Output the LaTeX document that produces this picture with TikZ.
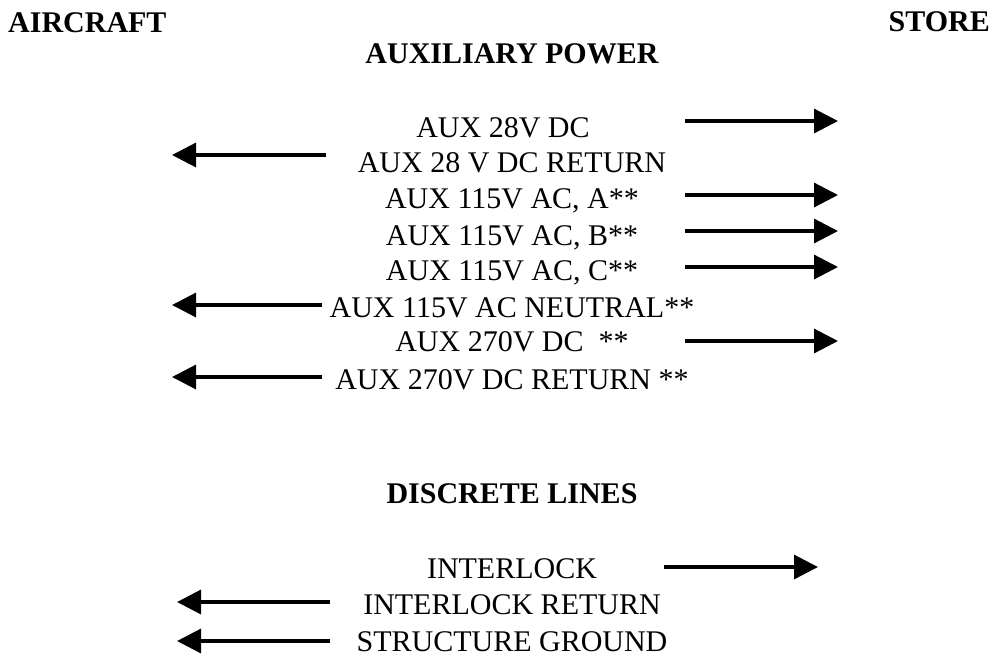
\documentclass[tikz,border=0pt]{standalone}
\usepackage{fontspec}
\setmainfont{Liberation Serif}
\usetikzlibrary{arrows.meta}
\tikzset{
  sig/.style={line width=3.2pt,-{Triangle[length=24pt,width=24pt]}},
  lbl/.style={anchor=base,inner sep=0pt,font=\fontsize{30}{36}\selectfont},
  hdr/.style={anchor=base,inner sep=0pt,font=\fontsize{30}{36}\selectfont\bfseries},
}
% #1 name, #2 y, #3 x where the wire starts, #4 x of the tip
\newcommand{\Wire}[4]{%
  \coordinate (#1-o) at (#3,#2);%
  \coordinate (#1-t) at (#4,#2);%
  \draw[sig] (#1-o) -- (#1-t);%
}

\begin{document}
\begin{tikzpicture}[x=1pt,y=-1pt]
\useasboundingbox (0,0) rectangle (998,657);
\node[hdr,anchor=base west] (aircraft) at (8,32) {AIRCRAFT};
\node[hdr,anchor=base east] (store) at (990,31) {STORE};
\node[hdr] (auxpwr) at (512,63) {AUXILIARY POWER};
\node[hdr] (discrete) at (512,503) {DISCRETE LINES};
% auxiliary power lines
\node[lbl] (dc28) at (503,137) {AUX 28V DC};
\foreach \n/\y/\t in {dc28ret/172/{AUX 28 V DC RETURN},
    aca/208/{AUX 115V AC, A**},
    acb/245/{AUX 115V AC, B**},
    acc/280/{AUX 115V AC, C**},
    acn/317/{AUX 115V AC NEUTRAL**},
    dc270/351/{AUX 270V DC\ \ **},
    dc270ret/389/{AUX 270V DC RETURN **},
    intlk/578/{INTERLOCK},
    intlkret/614/{INTERLOCK RETURN},
    gnd/651/{STRUCTURE GROUND}} {
  \node[lbl] (\n) at (512,\y) {\t};
}
\Wire{dc28}{121}{685}{838}
\Wire{dc28ret}{155}{326}{172}
\Wire{aca}{195}{685}{838}
\Wire{acb}{231}{685}{838}
\Wire{acc}{267}{685}{838}
\Wire{acn}{305}{322}{172}
\Wire{dc270}{341}{685}{838}
\Wire{dc270ret}{377}{322}{172}
% discrete lines
\Wire{intlk}{567}{664}{818}
\Wire{intlkret}{602}{330}{177}
\Wire{gnd}{641}{330}{177}
\end{tikzpicture}
\end{document}
